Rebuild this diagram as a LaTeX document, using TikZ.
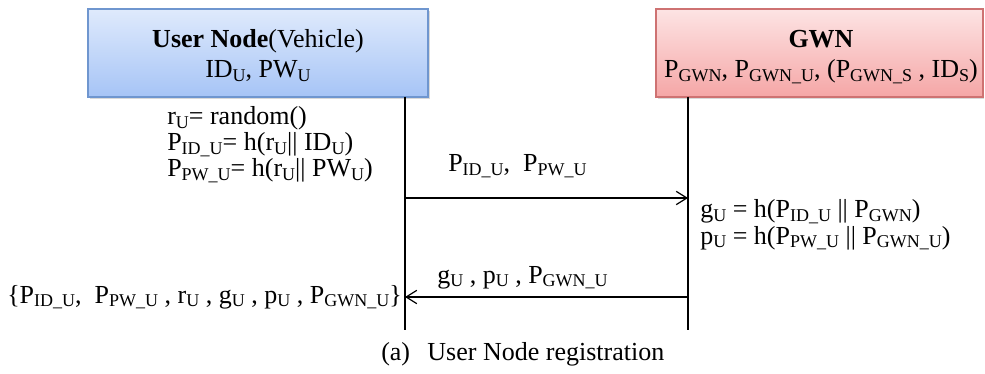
\documentclass[tikz,border=0pt]{standalone}
\usepackage{fontspec}
\setmainfont{Liberation Serif}
\usetikzlibrary{arrows.meta,shadows}
\definecolor{userTop}{HTML}{DFEAFC}
\definecolor{userBot}{HTML}{A6C4F6}
\definecolor{userLine}{HTML}{6F96CF}
\definecolor{gwnTop}{HTML}{FDE4E4}
\definecolor{gwnBot}{HTML}{F5A6A6}
\definecolor{gwnLine}{HTML}{CE7272}
\newcommand{\low}[1]{\raisebox{-2.4pt}{\fontsize{13.5}{13.5}\selectfont #1}}

\begin{document}
\begin{tikzpicture}[x=0.75pt,y=-0.75pt,
    every node/.style={font=\fontsize{19.5}{23}\selectfont, inner sep=0pt},
    partbox/.style={line width=1.1pt, minimum height=66pt,
      drop shadow={shadow xshift=1.2pt, shadow yshift=-1.8pt, opacity=.3}},
    userbox/.style={partbox, draw=userLine, top color=userTop, bottom color=userBot,
      minimum width=255pt},
    gwnbox/.style={partbox, draw=gwnLine, top color=gwnTop, bottom color=gwnBot,
      minimum width=245pt},
    life/.style={line width=0.9pt},
    msg/.style={line width=0.9pt, -{Straight Barb[length=8pt,width=10pt]}}]
  \useasboundingbox (0,0) rectangle (985,374);
  % participants
  \node[userbox] (user) at (258,53) {};
  \node[gwnbox] (gwn) at (819.5,53) {};
  \node[anchor=base] (userName) at (258,48) {\textbf{User Node}(Vehicle)};
  \node[anchor=base] (userKeys) at (258,78) {ID\low{U}, PW\low{U}};
  \node[anchor=base] (gwnName) at (821,48) {\textbf{GWN}};
  \node[anchor=base] (gwnKeys) at (821,78)
    {P\low{GWN}, P\low{GWN\_U}, (P\low{GWN\_S} , ID\low{S})};
  % lifelines
  \coordinate (uTop) at (405,97);  \coordinate (uBot) at (405,330);
  \coordinate (gTop) at (688,97);  \coordinate (gBot) at (688,330);
  \draw[life] (uTop) -- (uBot);
  \draw[life] (gTop) -- (gBot);
  % user side computation
  \node[anchor=base west] (randU) at (167,125) {r\low{U}= random()};
  \node[anchor=base west] (pidU) at (167,151) {P\low{ID\_U}= h(r\low{U}|| ID\low{U})};
  \node[anchor=base west] (ppwU) at (167,177) {P\low{PW\_U}= h(r\low{U}|| PW\low{U})};
  % request
  \coordinate (u1) at (405,198);  \coordinate (g1) at (688,198);
  \draw[msg] (u1) -- (g1);
  \node[anchor=base west] (req) at (448,172) {P\low{ID\_U},\ \ P\low{PW\_U}};
  % gateway computation
  \node[anchor=base west] (gU) at (700,218) {g\low{U} = h(P\low{ID\_U} || P\low{GWN})};
  \node[anchor=base west] (pU) at (700,244) {p\low{U} = h(P\low{PW\_U} || P\low{GWN\_U})};
  % reply
  \coordinate (g2) at (688,297);  \coordinate (u2) at (405,297);
  \draw[msg] (g2) -- (u2);
  \node[anchor=base west] (rep) at (437,283) {g\low{U} , p\low{U} , P\low{GWN\_U}};
  \node[anchor=base east] (store) at (402,303)
    {\{P\low{ID\_U},\ \ P\low{PW\_U} , r\low{U} , g\low{U} , p\low{U} , P\low{GWN\_U}\}};
  % caption
  \node[anchor=base west] (caption) at (381,360) {(a)\hspace{13pt}User Node registration};
\end{tikzpicture}
\end{document}
